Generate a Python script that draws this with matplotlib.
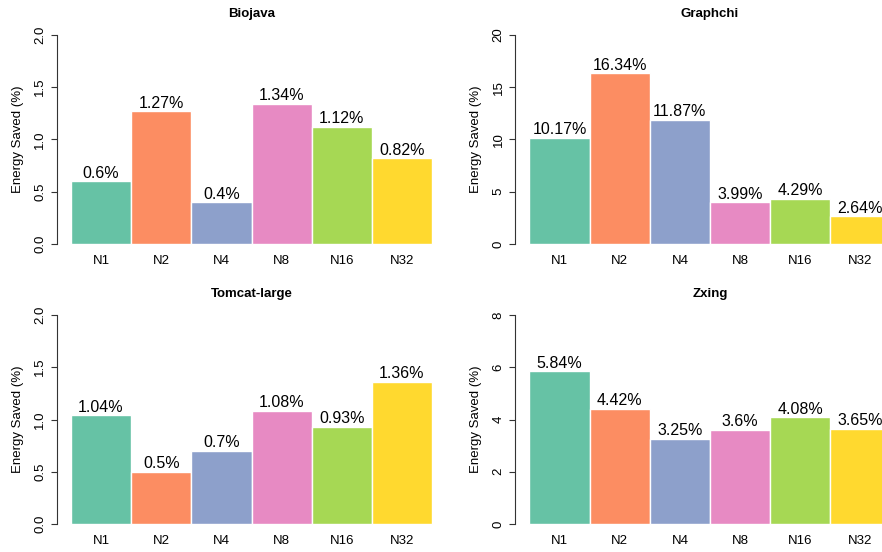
import numpy as np
import matplotlib.pyplot as plt

plt.rcParams['font.family'] = ['Liberation Sans', 'DejaVu Sans']

configs = ['N1', 'N2', 'N4', 'N8', 'N16', 'N32']
colors = ['#66C2A5', '#FC8D62', '#8DA0CB', '#E78AC3', '#A6D854', '#FFD92F']

biojava = [0.6, 1.27, 0.4, 1.34, 1.12, 0.82]
graphchi = [10.17, 16.34, 11.87, 3.99, 4.29, 2.64]
tomcat = [1.04, 0.5, 0.7, 1.08, 0.93, 1.36]
zxing = [5.84, 4.42, 3.25, 3.6, 4.08, 3.65]

titles = ['Biojava', 'Graphchi', 'Tomcat-large', 'Zxing']
series = [biojava, graphchi, tomcat, zxing]
ymaxes = [2, 20, 2, 8]
yticks = [[0, 0.5, 1.0, 1.5, 2.0], [0, 5, 10, 15, 20],
          [0, 0.5, 1.0, 1.5, 2.0], [0, 2, 4, 6, 8]]
ytick_labels = [['0.0', '0.5', '1.0', '1.5', '2.0'], ['0', '5', '10', '15', '20'],
                ['0.0', '0.5', '1.0', '1.5', '2.0'], ['0', '2', '4', '6', '8']]

W, H = 882, 552
fig = plt.figure(figsize=(W / 100, H / 100), dpi=100)

# pixel boxes (left, top, width, height) of each plot region
boxes = [(56.5, 26.6, 390, 225.8), (515, 26.6, 390, 225.8),
         (56.5, 306.6, 390, 225.8), (515, 306.6, 390, 225.8)]

x = np.arange(len(configs)) + 0.5
for i in range(4):
    l, t, w, h = boxes[i]
    ax = fig.add_axes([l / W, 1 - (t + h) / H, w / W, h / H])
    vals = series[i]
    ymax = ymaxes[i]
    ax.bar(x, vals, width=1.0, color=colors, edgecolor='white', linewidth=1)
    for xi, v in zip(x, vals):
        ax.annotate(f'{v:g}%', (xi, v), xytext=(0, 0.5), textcoords='offset points',
                    ha='center', va='bottom', fontsize=11.5)
    ax.set_xlim(-0.24, 6.24)
    ax.set_ylim(-0.04 * ymax, 1.04 * ymax)
    ax.set_xticks(x)
    ax.set_xticklabels(configs, fontsize=9.5)
    ax.tick_params(axis='x', length=0, pad=2)
    ax.set_yticks(yticks[i])
    ax.set_yticklabels(ytick_labels[i], rotation=90, va='center', fontsize=9.5)
    ax.tick_params(axis='y', length=4.3, width=0.8, pad=3.2, color='#333333')
    for s in ['top', 'right', 'bottom']:
        ax.spines[s].set_visible(False)
    ax.spines['left'].set_bounds(0, ymax)
    ax.spines['left'].set_color('#333333')
    ax.spines['left'].set_linewidth(0.8)
    ax.set_title(titles[i], fontsize=9.5, fontweight='bold', pad=7)
    ax.set_ylabel('Energy Saved (%)', fontsize=9.5)
    ax.yaxis.set_label_coords(-33 / w, 0.5)

fig.savefig('out.png', dpi=100)
